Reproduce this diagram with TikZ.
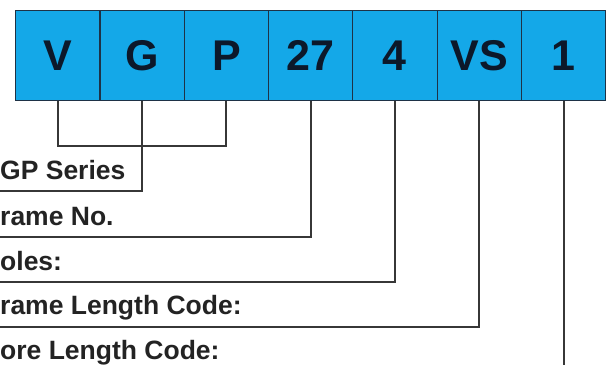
\documentclass[tikz,border=0pt]{standalone}
\usepackage{fontspec}
\setmainfont{Liberation Sans}
\definecolor{cellblue}{RGB}{20,168,232}
\definecolor{boxedge}{RGB}{30,50,70}
\definecolor{letterblue}{RGB}{12,24,42}
\definecolor{leadgray}{RGB}{55,55,55}
\definecolor{labelgray}{RGB}{35,35,35}
\begin{document}
\begin{tikzpicture}[x=1pt,y=-1pt,
  cell/.style={draw=boxedge,fill=cellblue,line width=1.2pt,minimum width=84.3pt,
    minimum height=90pt,inner sep=0pt,anchor=north west,
    font=\fontsize{43}{43}\selectfont\bfseries,text=letterblue},
  lead/.style={draw=leadgray,line width=2pt},
  lbl/.style={anchor=base west,inner sep=0pt,
    font=\fontsize{26.5}{30}\selectfont\bfseries,text=labelgray}]
\useasboundingbox (0,0) rectangle (611,365);
\fill[white] (0,0) rectangle (611,365);
% code cells
\node[cell] (b1) at (15,10) {V};
\node[cell] (b2) at (99.3,10) {G};
\node[cell] (b3) at (183.6,10) {P};
\node[cell] (b4) at (267.9,10) {27};
\node[cell] (b5) at (352.2,10) {4};
\node[cell] (b6) at (436.5,10) {VS};
\node[cell] (b7) at (520.8,10) {1};
% labels
\node[lbl] (l1) at (0,179) {GP Series};
\node[lbl] (l2) at (0,225) {rame No.};
\node[lbl] (l3) at (0,270) {oles:};
\node[lbl] (l4) at (0,314) {rame Length Code:};
\node[lbl] (l5) at (0,359) {ore Length Code:};
% connector ends
\coordinate (yVP) at (0,146);
\coordinate (e1) at (0,191);
\coordinate (e2) at (0,237);
\coordinate (e3) at (0,282);
\coordinate (e4) at (0,327);
\coordinate (e5) at (0,365);
% connectors
\draw[lead] (b1.south) |- (b3.south |- yVP) -- (b3.south);
\draw[lead] (b2.south) |- (e1);
\draw[lead] (b4.south) |- (e2);
\draw[lead] (b5.south) |- (e3);
\draw[lead] (b6.south) |- (e4);
\draw[lead] (b7.south) -- (b7.south |- e5);
\end{tikzpicture}
\end{document}
